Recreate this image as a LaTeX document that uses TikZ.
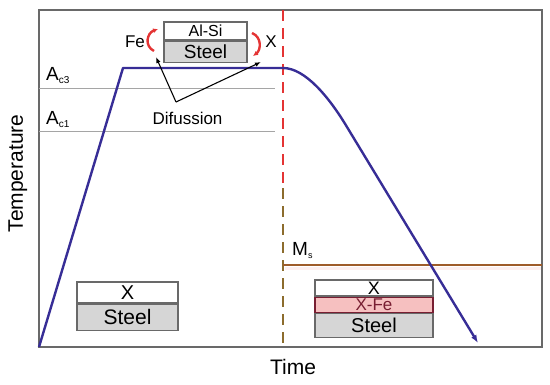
\documentclass[tikz,border=0pt]{standalone}
\usepackage{fontspec}
\setmainfont{Liberation Sans}
\usetikzlibrary{positioning,arrows.meta}
\definecolor{framegray}{RGB}{105,105,105}
\definecolor{acgray}{RGB}{165,165,165}
\definecolor{steelgray}{RGB}{214,214,214}
\definecolor{curveblue}{RGB}{55,45,150}
\definecolor{quenchred}{RGB}{228,52,52}
\definecolor{quenchbrown}{RGB}{140,108,45}
\definecolor{msbrown}{RGB}{158,92,42}
\definecolor{xfepink}{RGB}{246,192,192}
\definecolor{xfetext}{RGB}{120,30,50}
\newcommand{\fsz}[1]{\fontsize{#1}{#1}\selectfont}
\tikzset{
  layer/.style={rectangle, draw=framegray, line width=1.2pt, inner sep=0pt, align=center},
  steellayer/.style={layer, fill=steelgray},
  acline/.style={draw=acgray, line width=0.9pt},
  diffarr/.style={-{Latex[length=6pt,width=4.5pt]}, line width=1.1pt},
  redarr/.style={-{Latex[length=5pt,width=5pt]}, draw=quenchred, line width=2.4pt},
  quench/.style={line width=2.4pt, dash pattern=on 11pt off 7pt},
}

\begin{document}
\begin{tikzpicture}[x=1pt,y=-1pt]
\useasboundingbox (0,0) rectangle (550,384);
% frame
\draw[framegray, line width=2pt] (39,10) rectangle (542,347);
\node[rotate=90, anchor=base, inner sep=0pt, font=\fsz{21}] (temp) at (23,173.5) {Temperature};
\node[anchor=base, inner sep=0pt, font=\fsz{21}] (time) at (293,374) {Time};
% critical temperatures
\draw[acline] (39,88) -- (275,88);
\draw[acline] (39,131) -- (275,131);
\node[anchor=base west, inner sep=0pt, font=\fsz{19}] (ac3) at (46,80) {A\raisebox{-3pt}{\fsz{10}c3}};
\node[anchor=base west, inner sep=0pt, font=\fsz{19}] (ac1) at (46,124) {A\raisebox{-3pt}{\fsz{10}c1}};
% quench line and Ms
\draw[quench, quenchred] (283,10) -- (283,188);
\draw[quench, quenchbrown] (283,188) -- (283,347);
\draw[xfepink!25, line width=3pt] (285,268) -- (541,268);
\draw[msbrown, line width=2pt] (283,265) -- (542,265);
\node[anchor=base west, inner sep=0pt, font=\fsz{19}] (ms) at (292,255) {M\raisebox{-3pt}{\fsz{9}s}};
% thermal cycle
\draw[curveblue, line width=2.4pt, line join=round, -{Latex[length=8pt,width=6pt]}]
  (39,347) -- (123,68) -- (283,68) .. controls (305,68) and (329,97) .. (347,127) -- (478,343);
% coating during austenitisation
\node[layer, minimum width=83pt, minimum height=18pt, font=\fsz{16}] (alsi) at (205.5,31) {Al-Si};
\node[steellayer, minimum width=83pt, minimum height=21pt, font=\fsz{19}, below=0pt of alsi] (steeltop) {Steel};
\node[anchor=base, inner sep=0pt, font=\fsz{17}] (fe) at (135,47) {Fe};
\node[anchor=base, inner sep=0pt, font=\fsz{17}] (xtop) at (271,47) {X};
\draw[redarr] (154,51) .. controls (144,46) and (147,33) .. (158,29);
\draw[redarr] (252,33) .. controls (262,37) and (261,50) .. (253,56);
\node[anchor=base, inner sep=0pt, font=\fsz{17}] (dif) at (187.5,124) {Difussion};
\coordinate (difv) at (176,102);
\coordinate (tipfe) at (156,57);
\coordinate (tipx) at (261,62);
\draw[diffarr] (difv) -- (tipfe);
\draw[diffarr] (difv) -- (tipx);
% initial coating
\node[layer, fill=white, minimum width=101pt, minimum height=21pt, font=\fsz{20}] (xini) at (127.5,292.5) {X};
\node[steellayer, minimum width=101pt, minimum height=26pt, font=\fsz{21}, below=0pt of xini] (steelini) {Steel};
% coating after quench
\node[layer, fill=white, minimum width=118pt, minimum height=16pt, font=\fsz{18}] (xfin) at (374,288) {X};
\node[layer, fill=xfepink, draw=xfetext, minimum width=118pt, minimum height=15pt, font=\fsz{17}, text=xfetext, below=0pt of xfin] (xfe) {X-Fe};
\node[steellayer, minimum width=118pt, minimum height=24pt, font=\fsz{20}, below=0pt of xfe] (steelfin) {Steel};
\end{tikzpicture}
\end{document}
